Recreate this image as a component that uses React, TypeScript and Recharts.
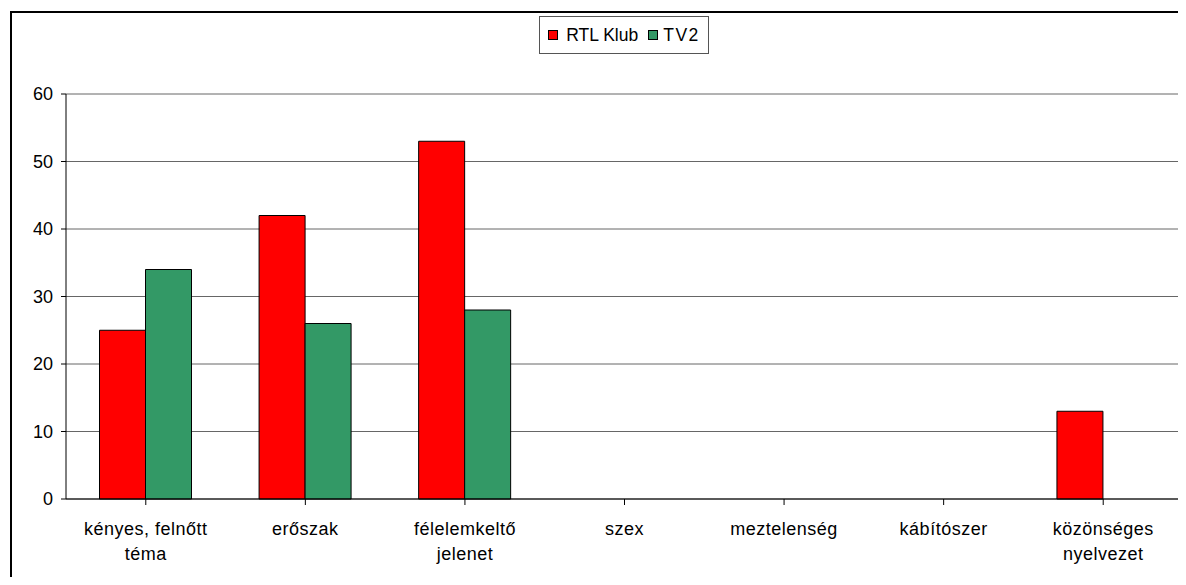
import { Bar, BarChart, CartesianGrid, XAxis, YAxis } from 'recharts'

const categories = [
  'kényes, felnőtt téma',
  'erőszak',
  'félelemkeltő jelenet',
  'szex',
  'meztelenség',
  'kábítószer',
  'közönséges nyelvezet',
]
const rtlKlub = [25, 42, 53, 0, 0, 0, 13]
const tv2 = [34, 26, 28, 0, 0, 0, 0]
const yTicks = [0, 10, 20, 30, 40, 50, 60]

const data = categories.map((name, i) => ({ name, rtl: rtlKlub[i], tv2: tv2[i] }))

const FONT = 'Liberation Sans, Arial, sans-serif'

// greedy wrap, roughly what Excel does with these labels
const wrap = (s: string, max = 15) => {
  const lines: string[] = []
  let cur = ''
  for (const w of s.split(' ')) {
    if (cur && (cur + ' ' + w).length > max) {
      lines.push(cur)
      cur = w
    } else {
      cur = cur ? cur + ' ' + w : w
    }
  }
  if (cur) lines.push(cur)
  return lines
}

const CategoryTick = (props: any) => {
  const { x, y, payload } = props
  const lines = wrap(payload.value)
  return (
    <text x={x} y={y} textAnchor='middle' fontFamily={FONT} fontSize={18} fill='#000' letterSpacing={0.5}>
      {lines.map((l, i) => (
        <tspan key={i} x={x} dy={i === 0 ? 28 : 25}>{l}</tspan>
      ))}
    </text>
  )
}

const Swatch = ({ color }: { color: string }) => (
  <span style={{ width: 8, height: 8, background: color, border: '1px solid #000', display: 'inline-block' }} />
)

const LegendBox = () => (
  <div
    style={{
      position: 'absolute',
      left: 539,
      top: 16,
      width: 170,
      height: 38,
      border: '1px solid #555',
      background: '#fff',
      display: 'flex',
      alignItems: 'center',
      justifyContent: 'center',
      gap: 10,
      fontFamily: FONT,
      fontSize: 17.5,
      color: '#000',
      boxSizing: 'border-box',
    }}
  >
    <span style={{ display: 'flex', alignItems: 'center', gap: 8 }}>
      <Swatch color='#ff0000' />
      RTL Klub
    </span>
    <span style={{ display: 'flex', alignItems: 'center', gap: 5, letterSpacing: 1.5 }}>
      <Swatch color='#339966' />
      TV2
    </span>
  </div>
)

export default function App() {
  return (
    <div style={{ position: 'relative', width: 1186, height: 585, margin: -8, overflow: 'hidden', background: '#fff' }}>
      <div
        style={{
          position: 'absolute',
          left: 10,
          top: 11,
          width: 1200,
          height: 600,
          border: '2px solid #000',
          boxSizing: 'border-box',
        }}
      />
      <div style={{ position: 'absolute', left: 0, top: 0 }}>
        <BarChart
          width={1186}
          height={585}
          data={data}
          margin={{ top: 94, right: 3, left: 0, bottom: 0 }}
          barCategoryGap='21%'
          barGap={0}
        >
          <CartesianGrid vertical={false} stroke='#666' strokeWidth={1} />
          <XAxis
            dataKey='name'
            interval={0}
            stroke='#000'
            tickSize={6}
            tick={<CategoryTick />}
            height={86}
          />
          <YAxis
            domain={[0, 60]}
            ticks={yTicks}
            interval={0}
            width={66}
            stroke='#000'
            tickSize={5}
            tickMargin={8}
            tick={{ fill: '#000', fontSize: 18, fontFamily: FONT }}
          />
          <Bar dataKey='rtl' name='RTL Klub' fill='#ff0000' stroke='#000' strokeWidth={1} isAnimationActive={false} />
          <Bar dataKey='tv2' name='TV2' fill='#339966' stroke='#000' strokeWidth={1} isAnimationActive={false} />
        </BarChart>
      </div>
      <LegendBox />
    </div>
  )
}
